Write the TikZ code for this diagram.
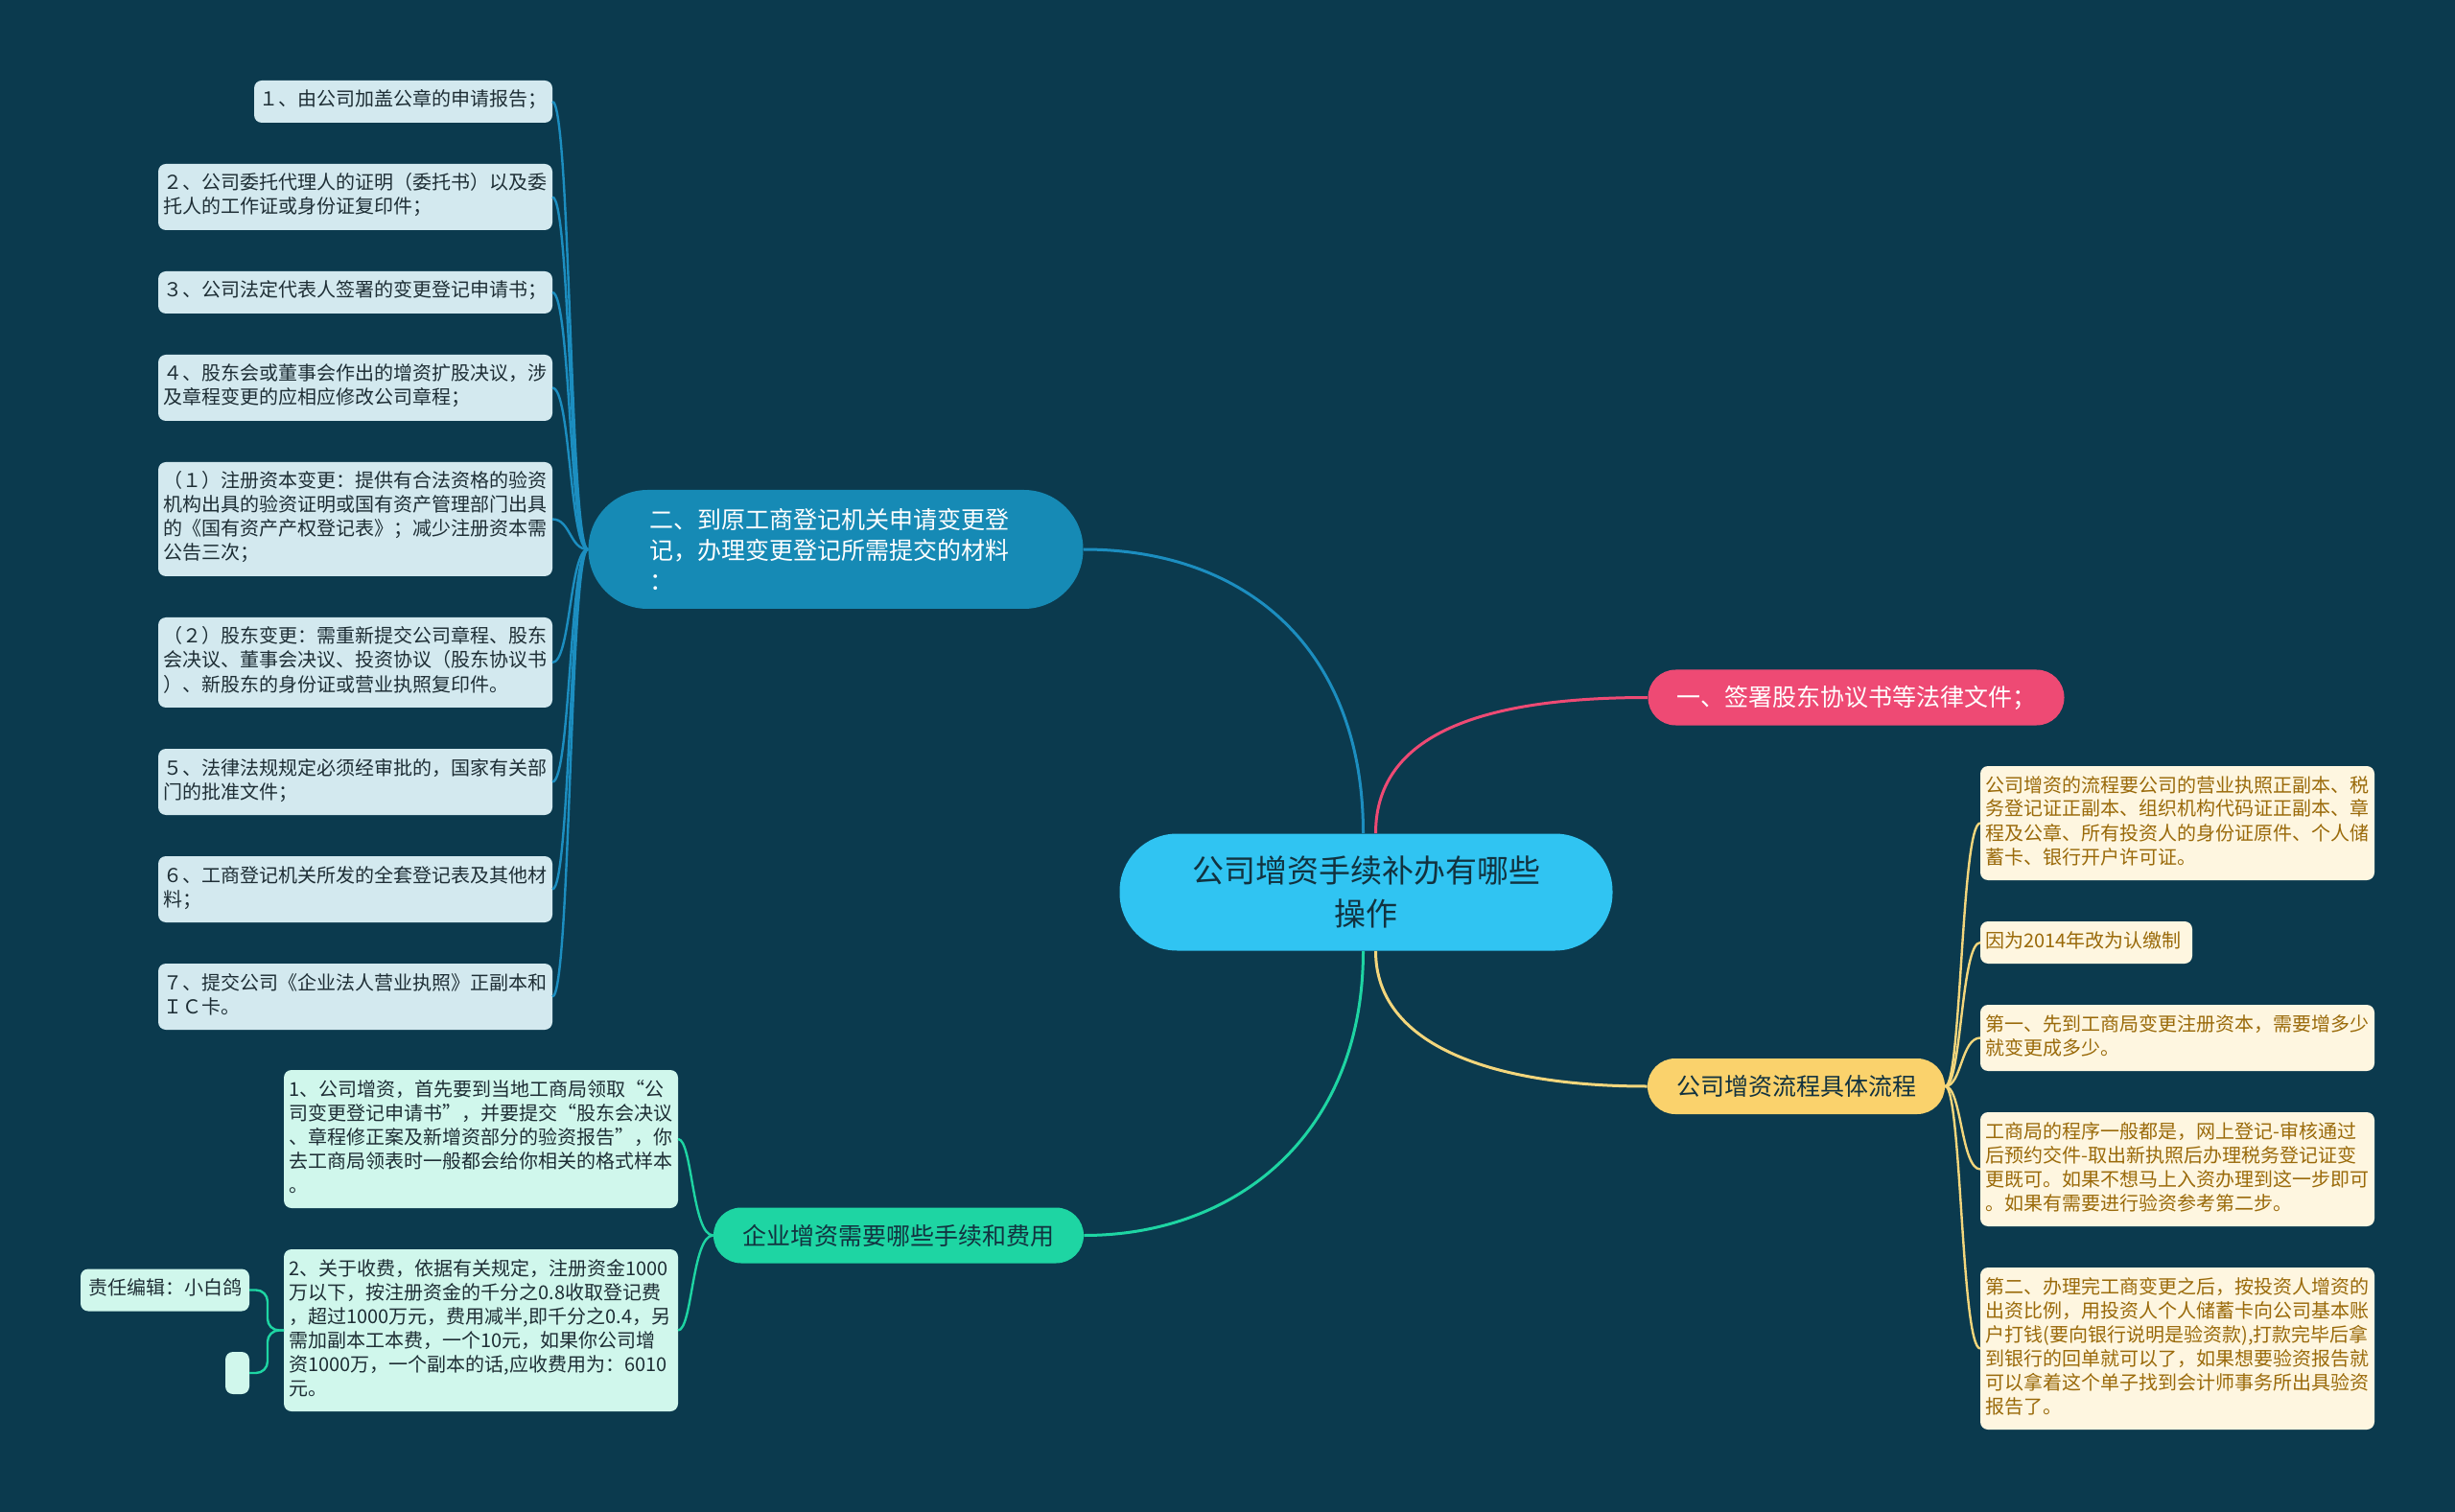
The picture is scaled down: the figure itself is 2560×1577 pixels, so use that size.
\documentclass[tikz,border=0pt]{standalone}
\usepackage{fontspec}
\newfontfamily\cjk{Noto Sans CJK SC}
\usetikzlibrary{positioning}
\definecolor{Backdrop}{HTML}{0B3A4E}
\definecolor{CoreBlue}{HTML}{30C4F2}
\definecolor{CoreInk}{HTML}{12323F}
\definecolor{SteelBlue}{HTML}{168AB5}
\definecolor{Rose}{HTML}{EE4A74}
\definecolor{Honey}{HTML}{FAD26C}
\definecolor{Mint}{HTML}{1ED5A3}
\definecolor{PaleBlue}{HTML}{D3E9EF}
\definecolor{PaleHoney}{HTML}{FEF6E0}
\definecolor{PaleMint}{HTML}{D0F7EC}
\definecolor{LeafInk}{HTML}{1E2E35}
\definecolor{HoneyInk}{HTML}{9A6A0A}
\definecolor{BlueLine}{HTML}{1C8EC0}
\definecolor{HoneyLine}{HTML}{F3D67C}
\newcommand\leaffont{\cjk\fontsize{10}{12.5}\selectfont\lineskiplimit -6pt\relax}

\begin{document}
\begin{tikzpicture}[x=0.5pt, y=-0.5pt, node distance=21.5pt,
    pill/.style={rounded corners=14.4pt, minimum height=29pt, inner sep=0pt, font=\cjk\fontsize{12.5}{15}\selectfont},
    leaf/.style={rounded corners=4pt, align=left, text width=200pt, inner xsep=2.75pt, inner ysep=4.75pt, outer sep=0pt,
      font=\leaffont, execute at begin node=\strut, execute at end node=\strut},
    leafL/.style={leaf, fill=PaleBlue, text=LeafInk},
    leafY/.style={leaf, fill=PaleHoney, text=HoneyInk},
    leafG/.style={leaf, fill=PaleMint, text=LeafInk},
    limb/.style={line width=1.5pt},
    twig/.style={line width=1.2pt}]
    \useasboundingbox (0,0) rectangle (2560,1577);
    \fill[Backdrop] (0,0) rectangle (2560,1577);

    % centre and main branches
    \node[fill=CoreBlue, text=CoreInk, rounded corners=30pt, minimum width=257pt, minimum height=61pt, inner sep=0pt,
      align=center, font=\cjk\fontsize{16.5}{22.5}\selectfont] (ctr) at (1424.5,930.5) {公司增资手续补办有哪些\\操作};
    \node[pill, fill=SteelBlue, text=white, minimum width=258pt, minimum height=62pt, rounded corners=30.9pt,
      text width=194pt, align=left, font=\cjk\fontsize{12.5}{16}\selectfont] (sec2) at (871.5,573)
      {二、到原工商登记机关申请变更登\\记，办理变更登记所需提交的材料\\：};
    \node[pill, fill=Rose, text=white, minimum width=217pt] (sec1) at (1935.5,727.5) {一、签署股东协议书等法律文件；};
    \node[pill, fill=Honey, text=CoreInk, minimum width=155pt] (flow) at (1873,1133) {公司增资流程具体流程};
    \node[pill, fill=Mint, text=CoreInk, minimum width=193pt] (fees) at (937,1288.5) {企业增资需要哪些手续和费用};

    % materials list
    \node[leafL, text width=150pt, anchor=north east] (m1) at (576,84) {１、由公司加盖公章的申请报告；};
    \node[leafL, below=of m1.south east, anchor=north east] (m2) {２、公司委托代理人的证明（委托书）以及委\\托人的工作证或身份证复印件；};
    \node[leafL, below=of m2.south east, anchor=north east] (m3) {３、公司法定代表人签署的变更登记申请书；};
    \node[leafL, below=of m3.south east, anchor=north east] (m4) {４、股东会或董事会作出的增资扩股决议，涉\\及章程变更的应相应修改公司章程；};
    \node[leafL, below=of m4.south east, anchor=north east] (m5) {（１）注册资本变更：提供有合法资格的验资\\机构出具的验资证明或国有资产管理部门出具\\的《国有资产产权登记表》；减少注册资本需\\公告三次；};
    \node[leafL, below=of m5.south east, anchor=north east] (m6) {（２）股东变更：需重新提交公司章程、股东\\会决议、董事会决议、投资协议（股东协议书\\）、新股东的身份证或营业执照复印件。};
    \node[leafL, below=of m6.south east, anchor=north east] (m7) {５、法律法规规定必须经审批的，国家有关部\\门的批准文件；};
    \node[leafL, below=of m7.south east, anchor=north east] (m8) {６、工商登记机关所发的全套登记表及其他材\\料；};
    \node[leafL, below=of m8.south east, anchor=north east] (m9) {７、提交公司《企业法人营业执照》正副本和\\ＩＣ卡。};

    % process steps
    \node[leafY, anchor=north west] (p1) at (2065,799) {公司增资的流程要公司的营业执照正副本、税\\务登记证正副本、组织机构代码证正副本、章\\程及公章、所有投资人的身份证原件、个人储\\蓄卡、银行开户许可证。};
    \node[leafY, text width=105pt, below=of p1.south west, anchor=north west] (p2) {因为2014年改为认缴制};
    \node[leafY, below=of p2.south west, anchor=north west] (p3) {第一、先到工商局变更注册资本，需要增多少\\就变更成多少。};
    \node[leafY, below=of p3.south west, anchor=north west] (p4) {工商局的程序一般都是，网上登记-审核通过\\后预约交件-取出新执照后办理税务登记证变\\更既可。如果不想马上入资办理到这一步即可\\。如果有需要进行验资参考第二步。};
    \node[leafY, below=of p4.south west, anchor=north west] (p5) {第二、办理完工商变更之后，按投资人增资的\\出资比例，用投资人个人储蓄卡向公司基本账\\户打钱(要向银行说明是验资款),打款完毕后拿\\到银行的回单就可以了，如果想要验资报告就\\可以拿着这个单子找到会计师事务所出具验资\\报告了。};

    % fees
    \node[leafG, anchor=north east] (f1) at (707,1116) {1、公司增资，首先要到当地工商局领取“公\\司变更登记申请书”，并要提交“股东会决议\\、章程修正案及新增资部分的验资报告”，你\\去工商局领表时一般都会给你相关的格式样本\\。};
    \node[leafG, below=of f1.south east, anchor=north east] (f2) {2、关于收费，依据有关规定，注册资金1000\\万以下，按注册资金的千分之0.8收取登记费\\，超过1000万元，费用减半,即千分之0.4，另\\需加副本工本费，一个10元，如果你公司增\\资1000万，一个副本的话,应收费用为：6010\\元。};
    \node[leafG, text width=80pt, inner xsep=4pt, anchor=east] (editor) at (260,1345.5) {责任编辑：小白鸽};
    \node[leafG, text width=7pt, anchor=east] (blank) at (260,1432) {};

    % connectors
    \draw[BlueLine, limb] ([xshift=-1.5pt]ctr.north) .. controls +(0,-190) and +(172,0) .. (sec2.east);
    \draw[Rose, limb] ([xshift=5pt]ctr.north) .. controls +(0,-110) and +(-158,0) .. (sec1.west);
    \draw[HoneyLine, limb] ([xshift=5pt]ctr.south) .. controls +(0,100) and +(-158,0) .. (flow.west);
    \draw[Mint, limb] ([xshift=-1.5pt]ctr.south) .. controls +(0,190) and +(160,0) .. (fees.east);
    \foreach \i in {1,...,9}
      \draw[BlueLine, twig] (sec2.west) .. controls +(-19,0) and +(19,0) .. (m\i.east);
    \foreach \i in {1,...,5}
      \draw[HoneyLine, twig] (flow.east) .. controls +(17,0) and +(-20,0) .. (p\i.west);
    \foreach \i in {1,2}
      \draw[Mint, twig] (fees.west) .. controls +(-22,0) and +(15,0) .. (f\i.east);
    \draw[Mint, twig, rounded corners=6pt] (f2.west) -- ++(-17,0) |- (editor.east);
    \draw[Mint, twig, rounded corners=6pt] (f2.west) -- ++(-17,0) |- (blank.east);
\end{tikzpicture}
\end{document}
